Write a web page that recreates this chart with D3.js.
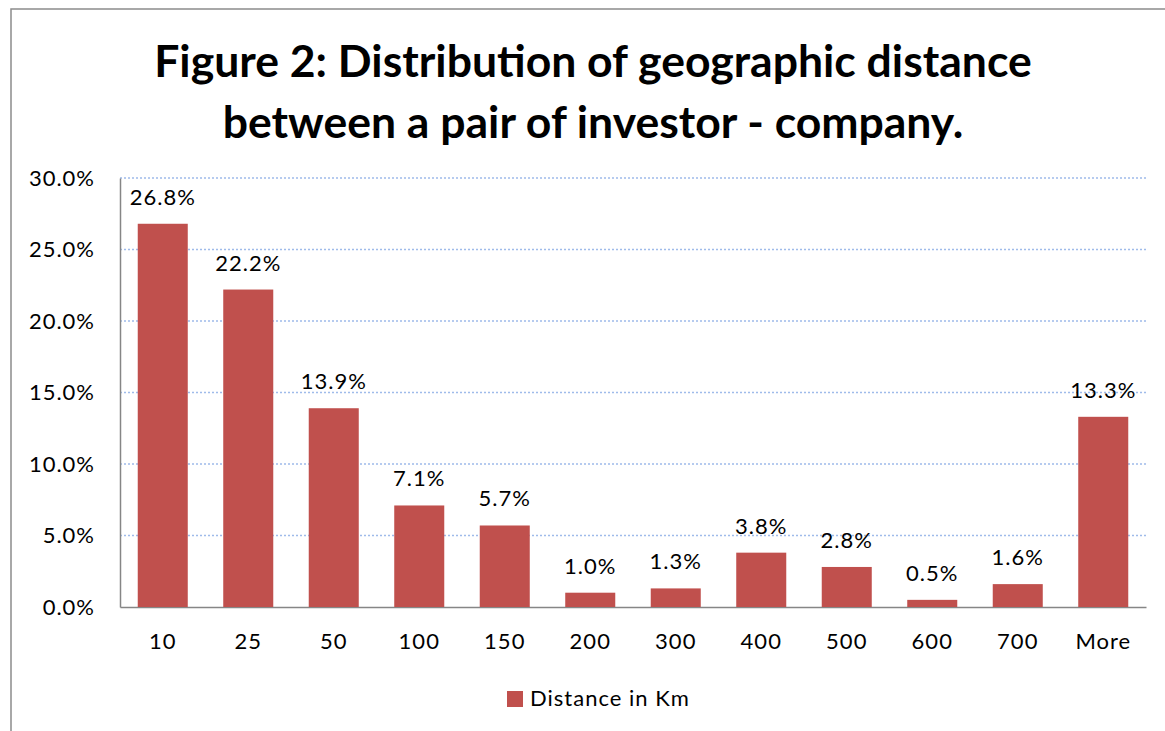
<!DOCTYPE html>
<html>
<head>
    <meta charset="utf-8">
    <title>Figure 2</title>
    <script src="https://d3js.org/d3.v7.min.js"></script>
    <style>
        body { margin: 0; background: #fff; }
        svg text { font-family: Lato, "Open Sans", sans-serif; }
    </style>
</head>
<body>
    <svg width="1165" height="731"></svg>
    <script>
        // chart data
        const categories = ["10", "25", "50", "100", "150", "200", "300", "400", "500", "600", "700", "More"];
        const shares = [26.8, 22.2, 13.9, 7.1, 5.7, 1.0, 1.3, 3.8, 2.8, 0.5, 1.6, 13.3];
        const yTicks = [0, 5, 10, 15, 20, 25, 30];
        const seriesName = "Distance in Km";
        const titleLines = ["Figure 2: Distribution of geographic distance", "between a pair of investor - company."];

        const svg = d3.select("svg"),
              margin = { top: 178, right: 19, bottom: 124, left: 120 },
              width = +svg.attr("width") - margin.left - margin.right,
              height = +svg.attr("height") - margin.top - margin.bottom;

        // outer frame (right/bottom edges fall outside the picture)
        svg.append("rect")
           .attr("x", 11).attr("y", 9)
           .attr("width", 1300).attr("height", 900)
           .attr("fill", "none")
           .attr("stroke", "#8c8c8c")
           .attr("stroke-width", 1.5);

        svg.selectAll(".title")
           .data(titleLines)
           .enter().append("text")
           .attr("class", "title")
           .attr("x", 593)
           .attr("y", (d, i) => 77 + i * 61)
           .attr("text-anchor", "middle")
           .attr("font-size", 44.5)
           .attr("font-weight", "bold")
           .attr("fill", "#000")
           .text(d => d);

        const g = svg.append("g").attr("transform", `translate(${margin.left},${margin.top})`);

        const x = d3.scaleBand()
                    .domain(categories)
                    .range([0, width])
                    .paddingInner(0.415)
                    .paddingOuter(0.2075);

        const y = d3.scaleLinear()
                    .domain([0, 30])
                    .range([height, 0]);

        // dotted gridlines
        g.selectAll(".grid")
         .data(yTicks.filter(t => t > 0))
         .enter().append("line")
         .attr("class", "grid")
         .attr("x1", 0).attr("x2", width)
         .attr("y1", d => y(d)).attr("y2", d => y(d))
         .attr("stroke", "#9fbbea")
         .attr("stroke-width", 1.5)
         .attr("stroke-dasharray", "2,2");

        // y axis
        const yAxis = g.append("g")
         .call(d3.axisLeft(y).tickValues(yTicks).tickSize(0).tickPadding(25).tickFormat(d => d.toFixed(1) + "%"));
        yAxis.select(".domain").attr("stroke", "#868686").attr("stroke-width", 1.5);
        yAxis.selectAll("text").attr("font-size", 22).attr("letter-spacing", 1).attr("fill", "#000").attr("font-family", "Lato");

        // x axis
        const xAxis = g.append("g")
         .attr("transform", `translate(0,${height})`)
         .call(d3.axisBottom(x).tickSize(0).tickPadding(26));
        xAxis.select(".domain").attr("stroke", "#868686").attr("stroke-width", 1.5);
        xAxis.selectAll("text").attr("font-size", 22).attr("letter-spacing", 1).attr("fill", "#000").attr("font-family", "Lato");

        // bars
        g.selectAll(".bar")
         .data(shares)
         .enter().append("rect")
         .attr("class", "bar")
         .attr("x", (d, i) => x(categories[i]))
         .attr("y", d => y(d))
         .attr("width", x.bandwidth())
         .attr("height", d => height - y(d))
         .attr("fill", "#c0504d");

        // value labels
        g.selectAll(".label")
         .data(shares)
         .enter().append("text")
         .attr("class", "label")
         .attr("x", (d, i) => x(categories[i]) + x.bandwidth() / 2)
         .attr("y", d => y(d) - 19)
         .attr("text-anchor", "middle")
         .attr("font-size", 22)
         .attr("letter-spacing", 1)
         .attr("fill", "#000")
         .text(d => d.toFixed(1) + "%");

        // legend
        const legend = svg.append("g").attr("transform", "translate(507,691)");
        legend.append("rect")
              .attr("width", 16).attr("height", 16)
              .attr("fill", "#c0504d");
        legend.append("text")
              .attr("x", 23).attr("y", 15)
              .attr("font-size", 22)
              .attr("letter-spacing", 1)
              .attr("fill", "#000")
              .text(seriesName);
    </script>
</body>
</html>
